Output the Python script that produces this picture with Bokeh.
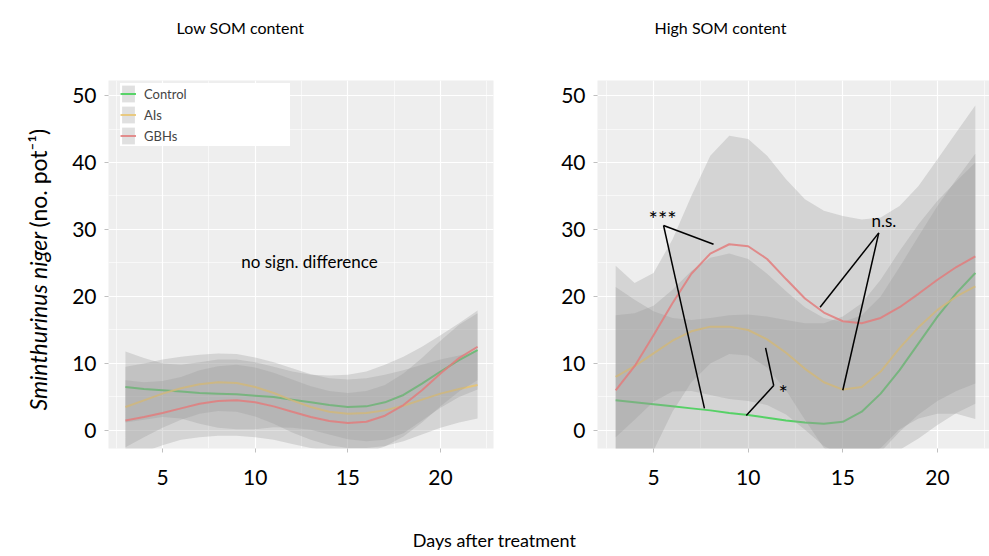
import numpy as np
from bokeh.plotting import figure
from bokeh.models import Legend, LegendItem, SingleIntervalTicker
from bokeh.layouts import column, row
from bokeh.embed import file_html
from bokeh.resources import INLINE
from bokeh.core.properties import value

# ---------------- data ----------------
days = [3, 4, 5, 6, 7, 8, 9, 10, 11, 12, 13, 14, 15, 16, 17, 18, 19, 20, 21, 22]
series = ["Control", "AIs", "GBHs"]

# Low SOM content
low_control = [6.5, 6.2, 6.0, 5.8, 5.6, 5.5, 5.4, 5.2, 5.0, 4.6, 4.2, 3.8, 3.5, 3.6, 4.2, 5.3, 7.0, 8.8, 10.5, 12.0]
low_control_hi = [11.8, 10.8, 10.0, 9.8, 10.2, 10.6, 10.6, 10.2, 9.5, 8.8, 8.3, 8.2, 8.3, 8.8, 9.8, 11.0, 12.5, 14.2, 16.0, 17.9]
low_control_lo = [1.2, 1.6, 2.0, 1.8, 1.0, 0.4, 0.2, 0.2, 0.5, 0.4, 0.1, -0.6, -1.3, -1.6, -1.4, -0.4, 1.5, 3.4, 5.0, 6.1]
low_ais = [3.5, 4.5, 5.5, 6.3, 6.9, 7.2, 7.1, 6.5, 5.6, 4.5, 3.5, 2.8, 2.5, 2.6, 3.0, 3.7, 4.6, 5.5, 6.2, 6.8]
low_ais_hi = [9.5, 10.0, 10.6, 11.0, 11.3, 11.5, 11.4, 10.9, 10.2, 9.3, 8.4, 7.8, 7.6, 7.8, 8.3, 9.0, 9.8, 10.6, 11.2, 11.8]
low_ais_lo = [-2.5, -1.0, 0.4, 1.6, 2.5, 2.9, 2.8, 2.1, 1.0, -0.3, -1.4, -2.2, -2.6, -2.6, -2.3, -1.6, -0.6, 0.4, 1.2, 1.8]
low_gbhs = [1.5, 2.0, 2.6, 3.3, 4.0, 4.4, 4.5, 4.2, 3.6, 2.8, 2.0, 1.4, 1.1, 1.3, 2.2, 3.8, 6.0, 8.5, 10.8, 12.5]
low_gbhs_hi = [7.5, 7.2, 7.4, 8.0, 9.0, 9.6, 9.8, 9.4, 8.6, 7.6, 6.6, 5.9, 5.6, 5.9, 6.8, 8.5, 10.8, 13.4, 15.8, 17.5]
low_gbhs_lo = [-4.5, -3.2, -2.2, -1.4, -1.0, -0.8, -0.8, -1.0, -1.4, -2.0, -2.6, -3.1, -3.4, -3.3, -2.4, -0.9, 1.2, 3.6, 5.8, 7.5]

# High SOM content
high_control = [4.5, 4.2, 3.9, 3.6, 3.3, 3.0, 2.6, 2.3, 1.9, 1.5, 1.2, 1.0, 1.3, 2.8, 5.5, 9.0, 13.0, 17.0, 20.5, 23.5]
high_control_hi = [21.4, 19.5, 17.8, 16.8, 16.5, 16.8, 17.2, 17.3, 17.0, 16.5, 16.0, 16.0, 17.0, 19.0, 22.5, 26.8, 30.8, 34.3, 37.2, 40.0]
high_control_lo = [-12.4, -11.0, -9.9, -9.5, -9.9, -10.8, -12.0, -12.7, -13.2, -13.5, -13.6, -13.5, -11.5, -7.0, -3.2, -0.2, 2.4, 4.4, 5.9, 7.0]
high_ais = [8.0, 9.6, 11.5, 13.4, 14.8, 15.5, 15.5, 15.0, 13.6, 11.6, 9.2, 7.2, 6.1, 6.5, 8.8, 12.3, 15.4, 18.0, 20.0, 21.5]
high_ais_hi = [17.2, 17.5, 18.6, 21.0, 23.8, 25.8, 26.4, 25.6, 23.4, 20.8, 18.4, 16.8, 16.2, 17.2, 20.0, 24.4, 29.0, 33.5, 37.5, 41.3]
high_ais_lo = [-1.0, 1.6, 4.3, 5.8, 5.9, 5.3, 4.7, 4.4, 3.8, 2.4, 0.1, -2.3, -3.8, -4.1, -2.6, 0.2, 1.8, 2.5, 2.5, 1.7]
high_gbhs = [6.0, 9.6, 14.2, 19.0, 23.4, 26.4, 27.8, 27.5, 25.6, 22.6, 19.7, 17.6, 16.3, 16.0, 16.8, 18.4, 20.4, 22.5, 24.4, 26.0]
high_gbhs_hi = [24.6, 22.0, 23.5, 28.5, 35.0, 41.0, 44.0, 43.5, 41.0, 37.5, 34.5, 32.8, 32.0, 31.5, 31.8, 33.5, 36.5, 40.5, 44.5, 48.5]
high_gbhs_lo = [-12.0, -7.8, -3.0, 2.8, 7.2, 10.0, 11.4, 11.2, 9.4, 6.0, 1.6, -2.6, -4.6, -5.0, -4.2, -2.9, -1.2, 0.8, 2.6, 4.0]

y_ticks = [0, 10, 20, 30, 40, 50]
x_ticks = [5, 10, 15, 20]

# annotations (high SOM panel)
sig_text = ["***", "*", "n.s."]
sig_x = [5.48, 11.85, 17.17]
sig_y = [31.6, 5.6, 31.3]
sig_size = ["22px", "22px", "17px"]
seg_x0 = [5.53, 5.53, 11.35, 11.35, 16.9, 16.9]
seg_y0 = [30.6, 30.6, 6.7, 6.7, 29.5, 29.5]
seg_x1 = [8.17, 7.69, 10.92, 9.90, 13.8, 15.0]
seg_y1 = [27.8, 3.3, 12.34, 2.24, 18.4, 6.0]

colors = {"Control": "#3fd052", "AIs": "#e9c46f", "GBHs": "#e27c7c"}
FONT = "Lato"


def text_fig(width, height, xr, yr):
    f = figure(width=width, height=height, x_range=xr, y_range=yr,
               x_axis_type=None, y_axis_type=None, output_backend="svg",
               toolbar_location=None, min_border=0, min_border_left=0,
               min_border_right=0, min_border_top=0, min_border_bottom=0)
    f.xgrid.visible = False
    f.ygrid.visible = False
    f.outline_line_color = None
    f.background_fill_color = "white"
    f.border_fill_color = "white"
    return f


def base_fig(width, min_left, min_right, xr):
    p = figure(width=width, height=452, x_range=xr, y_range=(-2.69, 52.24),
               output_backend="svg", toolbar_location=None,
               min_border_left=min_left, min_border_right=min_right,
               min_border_top=32, min_border_bottom=52)
    p.background_fill_color = "#eeeeee"
    p.border_fill_color = "white"
    p.outline_line_color = None
    p.xgrid.grid_line_color = "white"
    p.ygrid.grid_line_color = "white"
    p.xgrid.grid_line_width = 1.2
    p.ygrid.grid_line_width = 1.2
    p.xgrid.minor_grid_line_color = "white"
    p.ygrid.minor_grid_line_color = "white"
    p.xgrid.minor_grid_line_width = 0.6
    p.ygrid.minor_grid_line_width = 0.6
    p.xaxis.ticker = SingleIntervalTicker(interval=5, num_minor_ticks=2)
    p.yaxis.ticker = SingleIntervalTicker(interval=10, num_minor_ticks=2)
    for ax in (p.xaxis, p.yaxis):
        ax.axis_line_color = None
        ax.major_tick_line_color = "#c0c0c0"
        ax.major_tick_out = 4
        ax.major_tick_in = 0
        ax.minor_tick_line_color = None
        ax.major_label_text_font = FONT
        ax.major_label_text_font_size = "21px"
        ax.major_label_text_color = "black"
    p.xaxis.major_label_standoff = 17
    p.yaxis.major_label_standoff = 8
    return p


def draw(p, data):
    items = []
    for name in series:
        mean, lo, hi = data[name]
        band = p.varea(x=days, y1=lo, y2=hi, fill_color="#999999", fill_alpha=0.3)
        ln = p.line(x=days, y=mean, line_color=colors[name], line_width=2, line_alpha=0.85)
        items.append(LegendItem(label=name, renderers=[band, ln]))
    return items


low = {"Control": (low_control, low_control_lo, low_control_hi),
       "AIs": (low_ais, low_ais_lo, low_ais_hi),
       "GBHs": (low_gbhs, low_gbhs_lo, low_gbhs_hi)}
high = {"Control": (high_control, high_control_lo, high_control_hi),
        "AIs": (high_ais, high_ais_lo, high_ais_hi),
        "GBHs": (high_gbhs, high_gbhs_lo, high_gbhs_hi)}

# ---------- left panel ----------
p1 = base_fig(453, 48, 20, (2.086, 22.86))
items = draw(p1, low)
legend = Legend(items=items, location=(12, 302), background_fill_color="white",
                background_fill_alpha=1.0, border_line_color=None,
                label_text_font=FONT, label_text_font_size="13px",
                glyph_width=16, glyph_height=21, label_height=21, spacing=0,
                padding=4, label_standoff=8, label_width=146, margin=0)
p1.add_layout(legend)
p1.text(x=[12.93], y=[25.2], text=["no sign. difference"], text_font=value(FONT),
        text_font_size="17px", text_align="center", text_baseline="middle", text_color="black")

# ---------- right panel ----------
p2 = base_fig(476, 84, 0, (2.04, 22.75))
draw(p2, high)
p2.segment(x0=seg_x0, y0=seg_y0, x1=seg_x1, y1=seg_y1, line_color="black", line_width=1.5)
p2.text(x=sig_x, y=sig_y, text=sig_text, text_font=value(FONT), text_font_size=sig_size,
        text_align="center", text_baseline="middle", text_color="black")

# ---------- y title (left strip; its frame is aligned with the panels' frames) ----------
pY = text_fig(60, 452, (0, 60), (448, 80))
pY.text(x=[37], y=[410], text=["Sminthurinus niger"], text_font=value(FONT),
        text_font_style="italic", text_font_size="23px", angle=np.pi / 2,
        text_align="left", text_baseline="alphabetic", text_color="black")
pY.text(x=[37], y=[227], text=["(no. pot\u207b\u00b9)"], text_font=value(FONT),
        text_font_size="23px", angle=np.pi / 2,
        text_align="left", text_baseline="alphabetic", text_color="black")

# ---------- panel titles (top strip) ----------
panel_titles = ["Low SOM content", "High SOM content"]
pT = text_fig(989, 48, (0, 989), (48, 0))
pT.text(x=[240, 720], y=[27, 27], text=panel_titles, text_font=value(FONT),
        text_font_size="16px", text_align="center", text_baseline="middle", text_color="black")

# ---------- shared x title (bottom strip) ----------
p3 = text_fig(989, 56, (0, 989), (556, 500))
p3.text(x=[494], y=[539], text=["Days after treatment"], text_font=value(FONT),
        text_font_size="18px", text_align="center", text_baseline="middle", text_color="black")

layout = column(pT, row(pY, p1, p2), p3)
open("out.html", "w").write(file_html(layout, INLINE))
